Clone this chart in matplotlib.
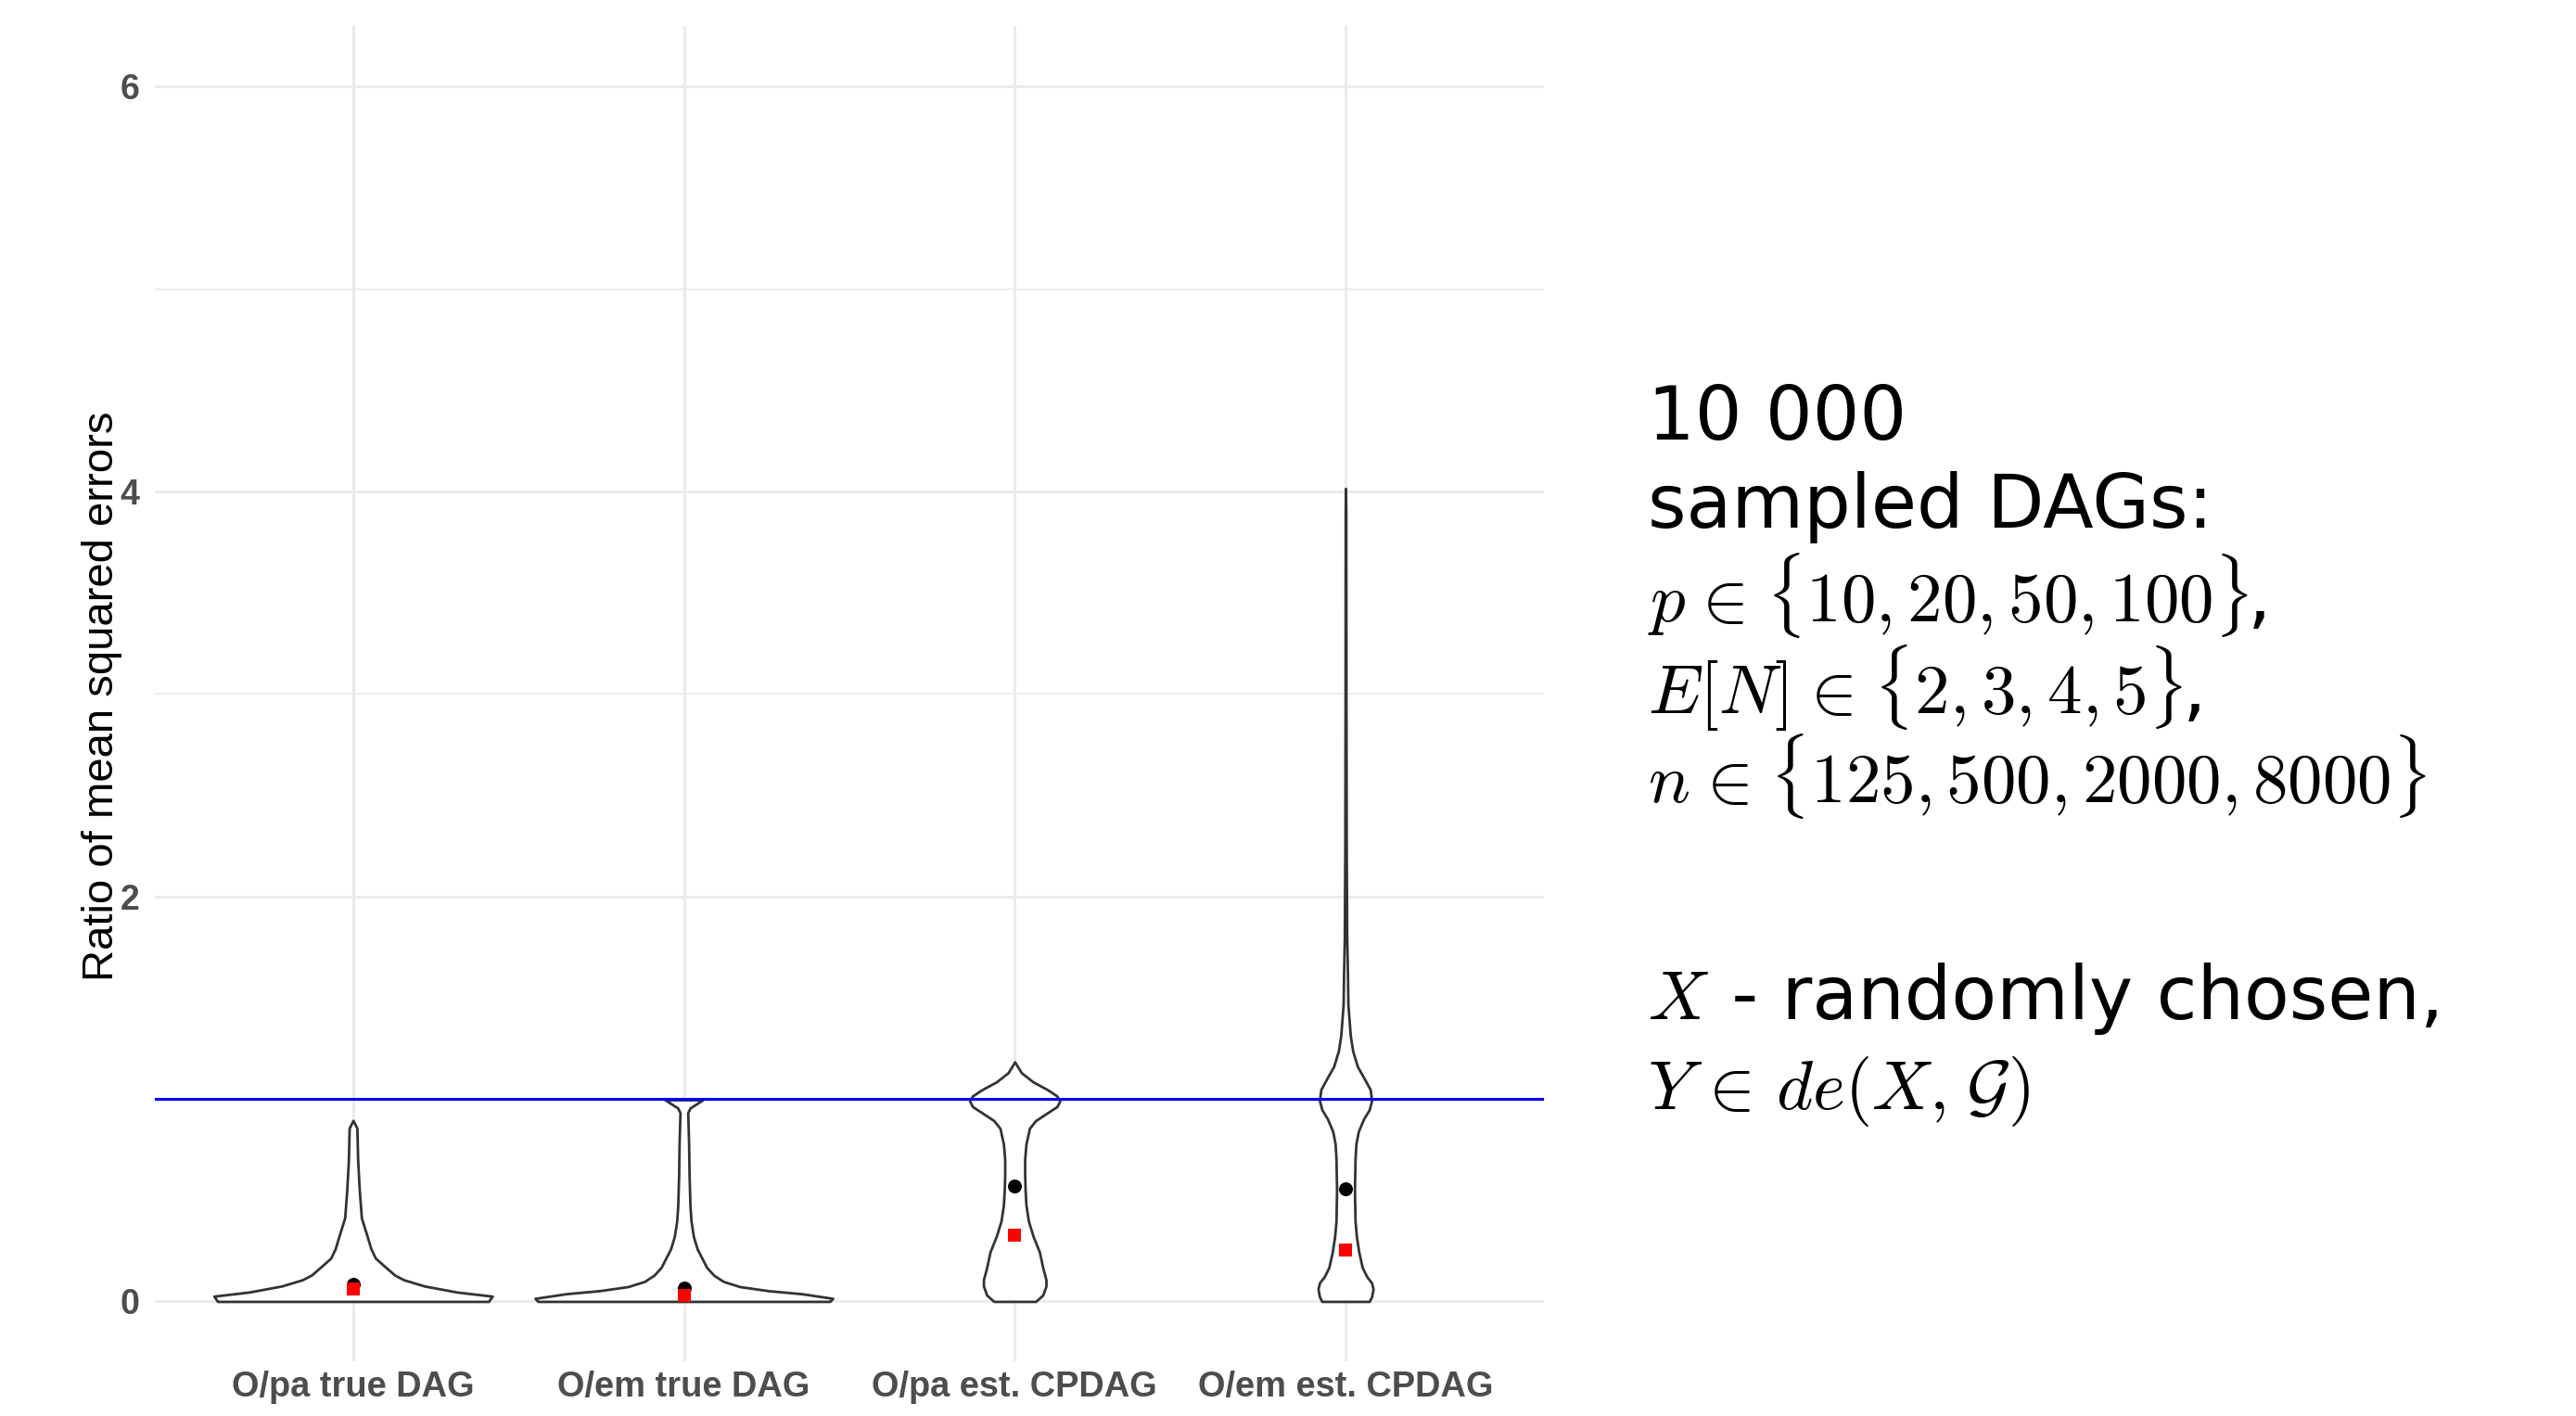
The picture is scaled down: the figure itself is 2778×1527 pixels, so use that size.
#!/usr/bin/env python3
"""
plot.py — violin plot of MSE ratios for the four adjustment sets.
Output: out.png
"""

import matplotlib
matplotlib.use("Agg")
import matplotlib.pyplot as plt
import numpy as np

matplotlib.rcParams["font.family"] = "sans-serif"
matplotlib.rcParams["font.sans-serif"] = ["Liberation Sans", "DejaVu Sans"]
matplotlib.rcParams["mathtext.fontset"] = "cm"

# ============================================================
# Data
# ============================================================
CATEGORIES = ["O/pa true DAG", "O/em true DAG", "O/pa est. CPDAG", "O/em est. CPDAG"]
MEANS   = [0.084, 0.064, 0.568, 0.557]
MEDIANS = [0.061, 0.029, 0.328, 0.252]

# violin outlines: y levels and scaled density (1 = widest violin)
V1_Y = [0.0, 0.026, 0.046, 0.076, 0.107, 0.130, 0.168, 0.214, 0.26, 0.321, 0.413, 0.55, 0.70, 0.856, 0.894]
V1_D = [0.91, 0.935, 0.70, 0.48, 0.34, 0.28, 0.22, 0.15, 0.12, 0.095, 0.056, 0.042, 0.031, 0.026, 0.0]

V2_Y = [0.0, 0.015, 0.038, 0.053, 0.073, 0.099, 0.130, 0.168, 0.214, 0.260, 0.321, 0.397, 0.474,
        0.626, 0.779, 0.932, 0.955, 0.978, 0.996]
V2_D = [0.98, 1.0, 0.79, 0.567, 0.376, 0.264, 0.20, 0.153, 0.121, 0.089, 0.064, 0.048, 0.041,
        0.035, 0.032, 0.026, 0.041, 0.089, 0.127]

V3_Y = [0.0, 0.031, 0.076, 0.107, 0.168, 0.244, 0.321, 0.397, 0.474, 0.550, 0.626, 0.703, 0.779,
        0.855, 0.893, 0.932, 0.962, 0.990, 1.015, 1.046, 1.084, 1.130, 1.183]
V3_D = [0.14, 0.188, 0.21, 0.21, 0.188, 0.166, 0.124, 0.092, 0.076, 0.070, 0.067, 0.067, 0.076,
        0.099, 0.14, 0.22, 0.283, 0.303, 0.283, 0.22, 0.124, 0.044, 0.0]

V4_Y = [0.0, 0.023, 0.061, 0.092, 0.122, 0.168, 0.244, 0.321, 0.397, 0.550, 0.703, 0.779, 0.840,
        0.901, 0.947, 0.992, 1.046, 1.099, 1.160, 1.237, 1.313, 1.466, 1.619, 1.8, 2.2, 3.0, 3.9, 4.016]
V4_D = [0.159, 0.175, 0.185, 0.175, 0.143, 0.112, 0.089, 0.073, 0.064, 0.060, 0.064, 0.07, 0.086,
        0.121, 0.159, 0.175, 0.166, 0.127, 0.08, 0.048, 0.032, 0.016, 0.013, 0.008, 0.005, 0.003, 0.002, 0.0]

VIOLINS = [(V1_Y, V1_D), (V2_Y, V2_D), (V3_Y, V3_D), (V4_Y, V4_D)]
REF_LINE = 1.0

# right-hand note: each line is a list of (text, is_math) pieces
SP = r"\hspace{0.08}"
SPY = r"\hspace{0.14}"
TEXT_LINES = [
    [("10 000", False)],
    [("sampled DAGs:", False)],
    [(r"$p" + SP + r"\in" + SP + r"\{10,20,50,100\}$", True), (",", False)],
    [(r"$E[N]" + SP + r"\in" + SP + r"\{2,3,4,5\}$", True), (",", False)],
    [(r"$n" + SP + r"\in" + SP + r"\{125,500,2000,8000\}$", True)],
    [(r"$X$", True), (" - randomly chosen,", False)],
    [(r"$Y" + SPY + r"\in" + SPY + r"de(X,\hspace{0.1}\mathcal{G})$", True)],
]

# ============================================================
# Style
# ============================================================
HALF_WIDTH = 0.45
GRID = "#EBEBEB"
TICK_COL = "#4D4D4D"
OUTLINE = "#333333"
TEXT_SIZE = 28.7
MATH_SIZE = 27.0

fig = plt.figure(figsize=(13.89, 7.635), dpi=200)
ax = fig.add_axes([0.060, 0.0386, 0.5394, 0.9431])

x_pos = np.arange(1, len(CATEGORIES) + 1)

for xc, (ys, ds) in zip(x_pos, VIOLINS):
    ys = np.array(ys)
    ds = np.array(ds) * HALF_WIDTH
    ax.fill_betweenx(ys, xc - ds, xc + ds, facecolor="white", edgecolor=OUTLINE,
                     linewidth=1.0, joinstyle="round", zorder=3)

ax.plot(x_pos, MEANS, "o", color="black", markersize=5.4, markeredgewidth=0, zorder=4)
ax.plot(x_pos, MEDIANS, "s", color="red", markersize=4.7, markeredgewidth=0, zorder=5)
ax.axhline(REF_LINE, color="blue", linewidth=1.1, zorder=6)

ax.set_xlim(0.4, 4.6)
ax.set_ylim(-0.296, 6.30)
ax.set_yticks([0, 2, 4, 6])
ax.set_yticks([1, 3, 5], minor=True)
ax.set_xticks(x_pos)
ax.set_xticklabels(CATEGORIES)
ax.grid(True, which="major", color=GRID, linewidth=1.1, zorder=0)
ax.grid(True, which="minor", axis="y", color=GRID, linewidth=0.6, zorder=0)
ax.set_axisbelow(True)
for s in ax.spines.values():
    s.set_visible(False)
ax.tick_params(axis="both", which="both", length=0)
ax.tick_params(axis="y", pad=6, labelsize=13.5, labelcolor=TICK_COL)
ax.tick_params(axis="x", pad=3.5, labelsize=13.7, labelcolor=TICK_COL)
for lab in ax.get_xticklabels() + ax.get_yticklabels():
    lab.set_fontweight("bold")

ax.set_ylabel("Ratio of mean squared errors", fontsize=17.0, color="black")
ax.yaxis.set_label_coords(-0.0232, 0.498)

# right-hand annotation, pieces laid out left to right on a shared baseline
BASELINES = [474, 569, 669.5, 769, 865, 1099, 1196]
renderer = fig.canvas.get_renderer()
fig_w = fig.get_figwidth() * fig.dpi
for pieces, ypx in zip(TEXT_LINES, BASELINES):
    x = 0.6395
    for txt, is_math in pieces:
        t = fig.text(x, 1 - ypx / 1527, txt, fontsize=MATH_SIZE if is_math else TEXT_SIZE,
                     va="baseline", ha="left", family="DejaVu Sans", color="black")
        x = t.get_window_extent(renderer).x1 / fig_w

fig.savefig("out.png", dpi=200)
